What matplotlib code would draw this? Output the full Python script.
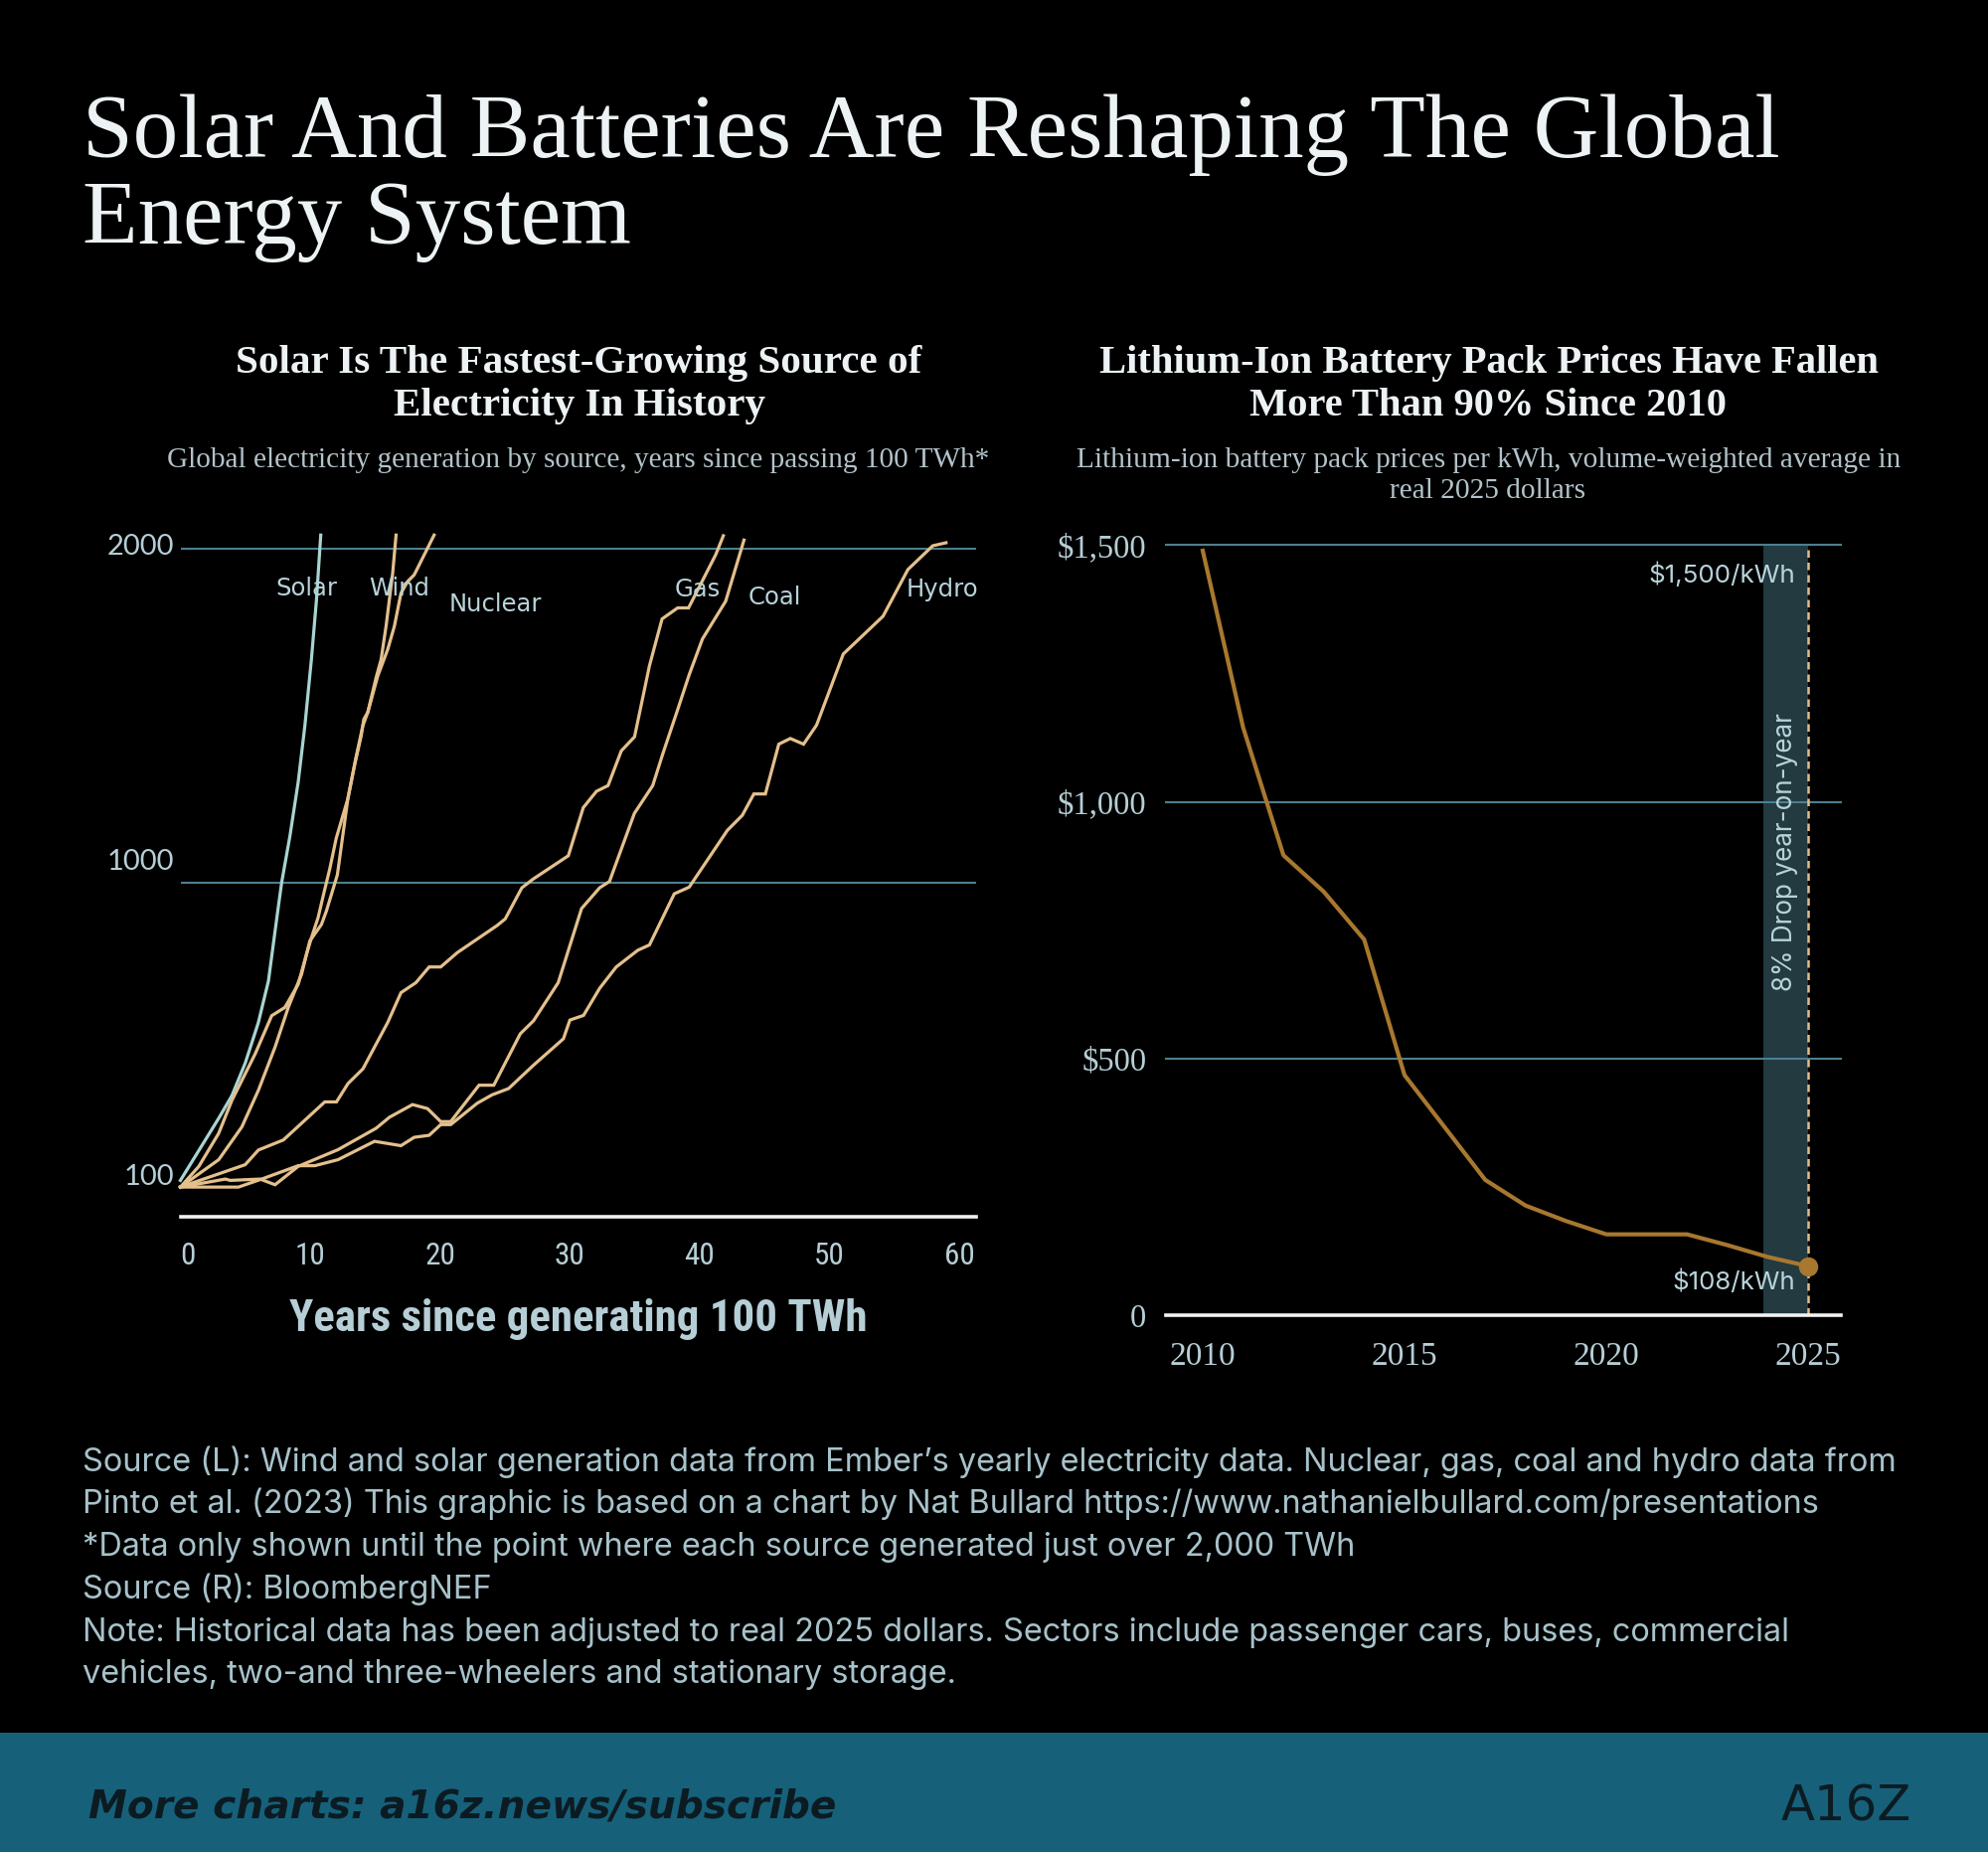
import matplotlib
matplotlib.use('Agg')
import matplotlib.pyplot as plt
from matplotlib import font_manager as fm
from matplotlib.patches import Rectangle

# ---------------- DATA ----------------
# Left chart: years since passing 100 TWh vs generation (TWh)
solar_x = [0, 2.95, 3.97, 5.0, 6.0, 6.78, 7.5, 7.8, 8.44, 9.07, 9.59, 10.09, 10.48, 10.81]
solar_y = [108, 294, 362, 460, 580, 705, 915, 1000, 1140, 1300, 1470, 1668, 1846, 2040]

wind_x = [0, 2.95, 4.73, 6.01, 7.29, 8.31, 9.33, 9.97, 10.86, 11.24, 12.09, 12.9, 13.5,
          14.05, 14.43, 15.07, 15.46, 15.84, 16.35, 16.61]
wind_y = [88, 170, 268, 378, 507, 626, 725, 825, 874, 914, 1023, 1251, 1370,
          1469, 1509, 1613, 1668, 1767, 1926, 2040]

nuclear_x = [0, 1.42, 2.95, 3.97, 4.86, 5.76, 7.03, 8.05, 9.07, 9.71, 10.09, 10.6, 11.0,
             11.5, 12.0, 12.52, 12.9, 13.41, 13.93, 14.13, 14.43, 15.2, 15.97, 16.48,
             16.99, 17.5, 18.01, 19.54]
nuclear_y = [88, 150, 249, 348, 417, 487, 601, 626, 695, 785, 834, 894, 960,
             1040, 1132, 1201, 1251, 1350, 1440, 1489, 1509, 1618, 1698, 1767,
             1866, 1901, 1921, 2040]

gas_x = [0, 4.99, 6.01, 7.93, 11.12, 12.02, 12.91, 14.06, 14.95, 15.97, 16.99, 18.14,
         19.16, 20.05, 21.33, 24.39, 25.02, 26.3, 27.2, 29.88, 31.03, 32.05, 32.94,
         33.96, 34.98, 36.13, 37.1, 38.3, 39.14, 41.23, 41.82]
gas_y = [88, 155, 199, 229, 343, 343, 398, 442, 507, 581, 670, 700,
         747, 747, 790, 871, 891, 984, 1011, 1080, 1224, 1273, 1290,
         1394, 1436, 1649, 1789, 1822, 1822, 1981, 2038]

coal_x = [0, 3.46, 3.84, 6.14, 7.29, 9.07, 12.14, 15.07, 16.1, 17.88, 19.03, 20.05,
          20.82, 23.0, 24.14, 26.18, 27.2, 29.1, 30.9, 32.29, 33.05, 34.97, 36.38,
          37.14, 38.29, 39.19, 40.21, 42.0, 43.41]
coal_y = [88, 112, 108, 112, 95, 150, 200, 264, 297, 335, 323, 284,
          284, 393, 393, 547, 586, 700, 922, 984, 1003, 1207, 1290,
          1383, 1516, 1622, 1729, 1842, 2025]

hydro_x = [0, 4.47, 6.26, 9.07, 10.35, 12.14, 14.95, 16.99, 18.01, 19.16, 20.05, 20.82,
           22.86, 24.0, 25.28, 27.2, 29.5, 30.0, 31.05, 32.29, 33.57, 35.23, 36.13,
           38.04, 39.19, 42.13, 43.28, 44.17, 45.06, 46.09, 46.98, 48.0, 49.0, 51.06,
           54.12, 56.04, 57.95, 58.97]
hydro_y = [88, 88, 112, 152, 152, 170, 225, 212, 237, 243, 275, 275,
           339, 364, 383, 453, 532, 588, 602, 683, 747, 797, 813,
           966, 986, 1156, 1201, 1265, 1265, 1414, 1431, 1414, 1471, 1684,
           1797, 1937, 2008, 2017]

series_names = ["Solar", "Wind", "Nuclear", "Gas", "Coal", "Hydro"]
left_xticks = [0, 10, 20, 30, 40, 50, 60]
left_yticks = [100, 1000, 2000]
left_grid = [1000, 2000]

# Right chart: battery pack prices (real 2025 $/kWh)
bat_years = [2010, 2011, 2012, 2013, 2014, 2015, 2016, 2017, 2018, 2019, 2020, 2021,
             2022, 2023, 2024, 2025]
bat_prices = [1489, 1145, 896, 825, 732, 468, 366, 264, 214, 184, 158, 158,
              158, 137, 114, 96]
right_xticks = [2010, 2015, 2020, 2025]
right_yticks = [0, 500, 1000, 1500]
right_yticklabels = ["0", "$500", "$1,000", "$1,500"]
drop_band = (2023.88, 2025)

# ---------------- STYLE / FONTS ----------------
def pick(*names):
    for n in names:
        try:
            fm.findfont(fm.FontProperties(family=n), fallback_to_default=False)
            return n
        except Exception:
            pass
    return 'DejaVu Sans'

SERIF = pick('Liberation Serif', 'DejaVu Serif')
SANS = pick('Inter', 'DejaVu Sans')
LABEL = pick('DejaVu Sans')
NARROW = pick('Liberation Sans Narrow', 'Roboto Condensed', 'Roboto', 'DejaVu Sans')
LIGHT = pick('Lato', 'Open Sans', 'DejaVu Sans')

BG = '#000000'
TITLE_C = '#EDF2F4'
DESC_C = '#B3C3CA'
TICK_C = '#B6CED6'
LAB_C = '#B8D4DB'
ORANGE = '#E4C08D'
SOLAR_C = '#A8D4D2'
GRID_C = '#4C7F91'
SPINE_C = '#F2F2F2'
BAT_C = '#A8782F'
DASH_C = '#E6BC85'
BAND_C = '#223A40'
FOOT_C = '#A7C2CA'
BANNER_C = '#16607A'
BANNER_T = '#0C1B21'

W, H = 2000, 1863
fig = plt.figure(figsize=(W / 100, H / 100), dpi=100, facecolor=BG)
renderer = fig.canvas.get_renderer()


def fx(x):
    return x / W


def fy(y):
    return 1 - y / H


def fit(t, target, use_height=False):
    bb = t.get_window_extent(renderer)
    cur = bb.height if use_height else bb.width
    t.set_fontsize(t.get_fontsize() * target / cur)
    return t.get_fontsize()


# ---------------- TITLES ----------------
t1 = fig.text(fx(83), fy(158), "Solar And Batteries Are Reshaping The Global", ha='left',
              va='baseline', family=SERIF, fontsize=66, color=TITLE_C)
fs = fit(t1, 1707)
fig.text(fx(83), fy(245), "Energy System", ha='left', va='baseline', family=SERIF,
         fontsize=fs, color=TITLE_C)

s1 = fig.text(fx(582), fy(375), "Solar Is The Fastest-Growing Source of", ha='center',
              va='baseline', family=SERIF, fontsize=30, color=TITLE_C, fontweight='bold')
fs = fit(s1, 690)
fig.text(fx(583), fy(418), "Electricity In History", ha='center', va='baseline',
         family=SERIF, fontsize=fs, color=TITLE_C, fontweight='bold')

s2 = fig.text(fx(1498), fy(375), "Lithium-Ion Battery Pack Prices Have Fallen", ha='center',
              va='baseline', family=SERIF, fontsize=30, color=TITLE_C, fontweight='bold')
fs = fit(s2, 782)
fig.text(fx(1497), fy(418), "More Than 90% Since 2010", ha='center', va='baseline',
         family=SERIF, fontsize=fs, color=TITLE_C, fontweight='bold')

d1 = fig.text(fx(582), fy(470), "Global electricity generation by source, years since passing 100 TWh*",
              ha='center', va='baseline', family=SERIF, fontsize=18, color=DESC_C)
fit(d1, 829)
d2 = fig.text(fx(1498), fy(470), "Lithium-ion battery pack prices per kWh, volume-weighted average in",
              ha='center', va='baseline', family=SERIF, fontsize=18, color=DESC_C)
fs = fit(d2, 833)
fig.text(fx(1497), fy(501), "real 2025 dollars", ha='center', va='baseline', family=SERIF,
         fontsize=fs, color=DESC_C)

# ---------------- LEFT CHART ----------------
ax1 = fig.add_axes([fx(181.5), fy(1223.7), (982 - 181.5) / W, (1223.7 - 534.9) / H])
ax1.set_facecolor('none')
ax1.set_xlim(0, 61.29)
ax1.set_ylim(0, 2050)
for s in ['top', 'right', 'left']:
    ax1.spines[s].set_visible(False)
ax1.spines['bottom'].set_color(SPINE_C)
ax1.spines['bottom'].set_linewidth(2.6)
for g in left_grid:
    ax1.axhline(g, color=GRID_C, lw=1.5, zorder=1)

series = [(solar_x, solar_y, SOLAR_C), (wind_x, wind_y, ORANGE), (nuclear_x, nuclear_y, ORANGE),
          (gas_x, gas_y, ORANGE), (coal_x, coal_y, ORANGE), (hydro_x, hydro_y, ORANGE)]
for xs, ys, c in series:
    ax1.plot(xs, ys, color=c, lw=2.3, solid_joinstyle='miter', zorder=3, clip_on=False)

label_pos = {"Solar": (9.74, 1880), "Wind": (16.86, 1881), "Nuclear": (24.26, 1832),
             "Gas": (39.83, 1878), "Coal": (45.75, 1853), "Hydro": (58.71, 1877)}
for name in series_names:
    xx, yy = label_pos[name]
    ax1.text(xx, yy, name, ha='center', va='center', family=LABEL, fontsize=17.5,
             color=LAB_C, zorder=4)

ax1.set_xticks(left_xticks)
ax1.set_xticklabels([str(v) for v in left_xticks], family=NARROW, fontsize=22.5,
                    color=TICK_C, va='center')
ax1.tick_params(axis='x', length=0, pad=28.8)
ax1.get_xticklabels()[0].set_ha('left')
ax1.set_yticks([])
ylab_dy = {100: 6.5, 1000: 21, 2000: 1.7}
for v in left_yticks:
    ax1.annotate(str(v), xy=(0, v), xycoords=ax1.get_yaxis_transform(),
                 xytext=(-6.5, ylab_dy[v]), textcoords='offset pixels', ha='right',
                 va='center', family=LIGHT, fontsize=21, color=TICK_C, fontweight='normal')

xl = fig.text(fx(582), fy(1326.7), "Years since generating 100 TWh", ha='center', va='center',
              family=NARROW, fontsize=26, color=TICK_C, fontweight='bold')
fit(xl, 582)

# ---------------- RIGHT CHART ----------------
ax2 = fig.add_axes([fx(1173.3), fy(1323.3), (1851.7 - 1173.3) / W, (1323.3 - 548.3) / H])
ax2.set_facecolor('none')
ax2.set_xlim(2009.096, 2025.805)
ax2.set_ylim(0, 1500)
for s in ['top', 'right', 'left']:
    ax2.spines[s].set_visible(False)
ax2.spines['bottom'].set_color(SPINE_C)
ax2.spines['bottom'].set_linewidth(2.6)
ax2.spines['bottom'].set_zorder(5)
for g in right_yticks[1:]:
    ax2.axhline(g, color=GRID_C, lw=1.5, zorder=1, clip_on=False)
ax2.axvspan(drop_band[0], drop_band[1], color=BAND_C, zorder=0.5, lw=0)
ax2.axvline(drop_band[1], color=DASH_C, lw=1.8, ls=(0, (3, 2)), zorder=2)
ax2.plot(bat_years, bat_prices, color=BAT_C, lw=3.0, zorder=3)
ax2.plot([bat_years[-1]], [bat_prices[-1]], 'o', color=BAT_C, ms=13, zorder=4)

ax2.set_xticks(right_xticks)
ax2.set_xticklabels([str(v) for v in right_xticks], family=SERIF, fontsize=24,
                    color=TICK_C, va='center')
ax2.tick_params(axis='x', length=0, pad=29.5)
ax2.set_yticks(right_yticks)
ax2.set_yticklabels(right_yticklabels, family=SERIF, fontsize=23.5, color=TICK_C)
ax2.tick_params(axis='y', length=0, pad=14.4)

a1 = ax2.text(2024.69, 1443, "$1,500/kWh", ha='right', va='center', family=SANS,
              fontsize=18, color=LAB_C, zorder=5)
fit(a1, 148)
a2 = ax2.text(2024.69, 64, "$108/kWh", ha='right', va='center', family=SANS,
              fontsize=18, color=LAB_C, zorder=5)
fit(a2, 124)
a3 = ax2.text(2024.44, 902, "8% Drop year-on-year", ha='center', va='center', rotation=90,
              family=SANS, fontsize=17, color=LAB_C, zorder=5)
fit(a3, 280, use_height=True)

# ---------------- FOOTER ----------------
foot = ["Source (L): Wind and solar generation data from Ember\u2019s yearly electricity data. Nuclear, gas, coal and hydro data from",
        "Pinto et al. (2023) This graphic is based on a chart by Nat Bullard https://www.nathanielbullard.com/presentations",
        "*Data only shown until the point where each source generated just over 2,000 TWh",
        "Source (R): BloombergNEF",
        "Note: Historical data has been adjusted to real 2025 dollars. Sectors include passenger cars, buses, commercial",
        "vehicles, two-and three-wheelers and stationary storage."]
foot_base = [1480, 1522, 1565, 1608, 1651, 1693]
f0 = fig.text(fx(83), fy(foot_base[0]), foot[0], ha='left', va='baseline', family=SANS,
              fontsize=22, color=FOOT_C)
fs = fit(f0, 1830)
for line, yb in zip(foot[1:], foot_base[1:]):
    fig.text(fx(83), fy(yb), line, ha='left', va='baseline', family=SANS, fontsize=fs,
             color=FOOT_C)

fig.patches.append(Rectangle((0, 0), 1, (H - 1742.7) / H, transform=fig.transFigure,
                             facecolor=BANNER_C, edgecolor='none', zorder=0))
b1 = fig.text(fx(89), fy(1828), "More charts: a16z.news/subscribe", ha='left', va='baseline',
              family='DejaVu Sans', fontsize=28, color=BANNER_T, fontweight='bold',
              style='italic')
fit(b1, 753)
lg = fig.text(fx(1792), fy(1831), "A16Z", ha='left', va='baseline', family='DejaVu Sans',
              fontsize=40, color=BANNER_T)
fit(lg, 131)

fig.savefig('out.png', dpi=100, facecolor=BG)
